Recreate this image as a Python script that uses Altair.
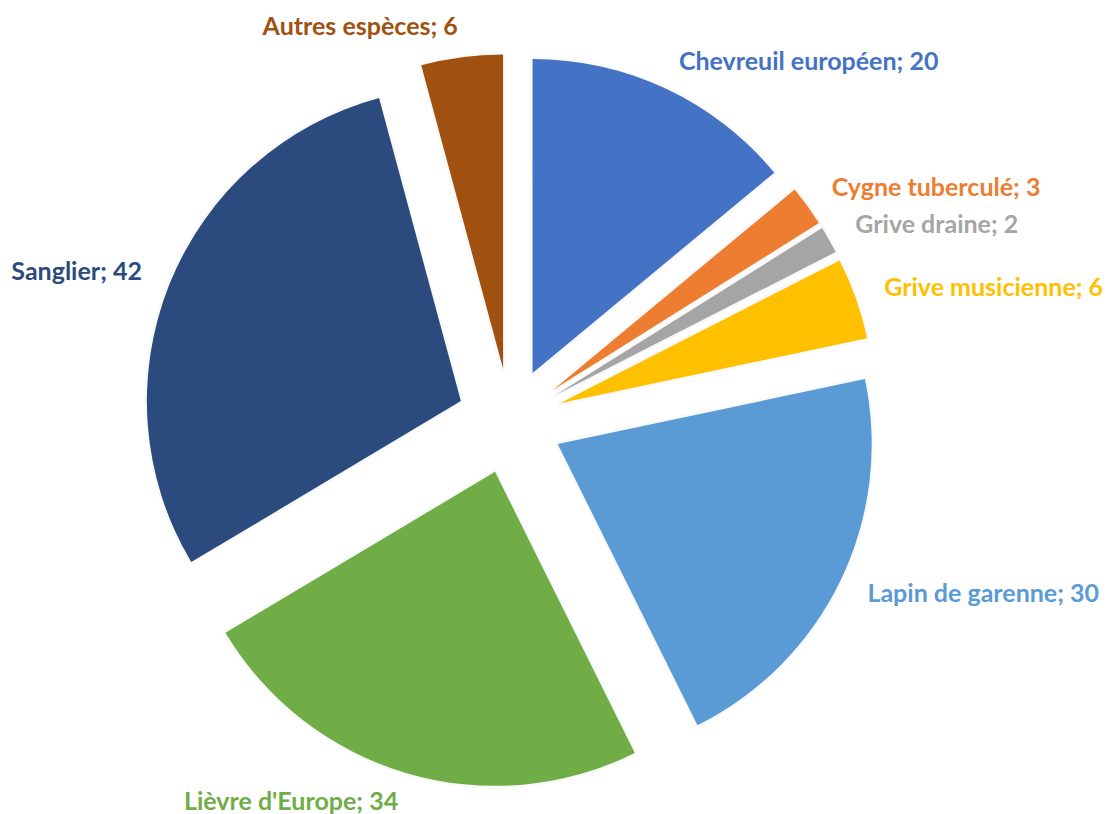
import altair as alt
import pandas as pd

species = ["Chevreuil européen", "Cygne tuberculé", "Grive draine", "Grive musicienne",
           "Lapin de garenne", "Lièvre d'Europe", "Sanglier", "Autres espèces"]
counts = [20, 3, 2, 6, 30, 34, 42, 6]
colors = ["#4472C4", "#ED7D31", "#A5A5A5", "#FFC000", "#5B9BD5", "#70AD47", "#2B4A7D", "#A0500F"]

df = pd.DataFrame({"species": species, "count": counts, "order": list(range(len(species)))})

W, H = 1094, 806
CX, CY = 502, 413
R = 314
EXPLODE = 53
LABEL_R = 397

base = (
    alt.Chart(df)
    .transform_joinaggregate(total="sum(count)")
    .transform_window(cum="sum(count)", sort=[alt.SortField("order")], frame=[None, 0])
    .transform_calculate(a0="2*PI*(datum.cum - datum.count)/datum.total")
    .transform_calculate(a1="2*PI*datum.cum/datum.total")
    .transform_calculate(mid="(datum.a0 + datum.a1)/2")
    .transform_calculate(cx=f"{CX} + {EXPLODE}*sin(datum.mid)")
    .transform_calculate(cy=f"{CY} - {EXPLODE}*cos(datum.mid)")
    .transform_calculate(lx=f"{CX} + {LABEL_R}*sin(datum.mid)")
    .transform_calculate(ly=f"{CY} - {LABEL_R}*cos(datum.mid)")
    .transform_calculate(label="datum.species + '; ' + datum.count")
    .transform_calculate(right="sin(datum.mid) >= 0 ? 1 : 0")
)

color = alt.Color("species:N", scale=alt.Scale(domain=species, range=colors), legend=None)
pos = dict(
    theta=alt.Theta("a0:Q", scale=None, stack=None),
    theta2="a1:Q",
    x=alt.X("cx:Q", scale=None, axis=None),
    y=alt.Y("cy:Q", scale=None, axis=None),
)

shadow = base.mark_arc(radius=R, stroke="#000000", strokeWidth=5, strokeOpacity=0.025,
                       strokeJoin="round", fillOpacity=0).encode(**pos)
arcs = base.mark_arc(radius=R).encode(color=color, **pos)

text_style = dict(font="Lato", fontSize=25, fontWeight="bold", baseline="middle")
labels_right = base.transform_filter("datum.right == 1").mark_text(align="left", **text_style).encode(
    x=alt.X("lx:Q", scale=None, axis=None),
    y=alt.Y("ly:Q", scale=None, axis=None),
    text="label:N",
    color=color,
)
labels_left = base.transform_filter("datum.right == 0").mark_text(align="right", **text_style).encode(
    x=alt.X("lx:Q", scale=None, axis=None),
    y=alt.Y("ly:Q", scale=None, axis=None),
    text="label:N",
    color=color,
)

chart = (
    alt.layer(shadow, arcs, labels_right, labels_left)
    .properties(width=W, height=H, autosize="none", padding=0)
    .configure_view(stroke=None)
)

chart.save("out.html", embed_options={"renderer": "svg", "actions": False})
